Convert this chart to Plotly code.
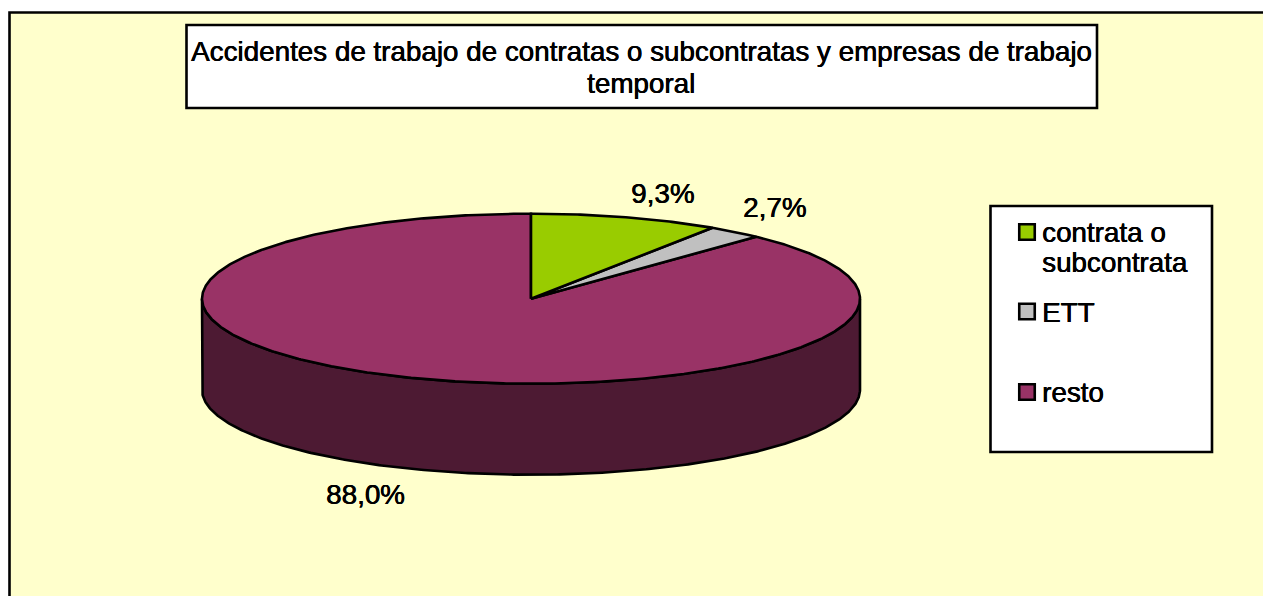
import numpy as np
import plotly.graph_objects as go

# Data
categories = ["contrata o subcontrata", "ETT", "resto"]
legend_lines = [["contrata o", "subcontrata"], ["ETT"], ["resto"]]
values = [9.3, 2.7, 88.0]
value_labels = ["9,3%", "2,7%", "88,0%"]
title_lines = ["Accidentes de trabajo de contratas o subcontratas y empresas de trabajo", "temporal"]

# Style
colors = ["#99CC00", "#C0C0C0", "#993366"]
wall_color = "#4D1A33"
bg = "#FFFFCC"
FONT = "Liberation Sans, Arial, sans-serif"
SIZE = 27.8
HEAVY = "0.5px 0 0 black, 0 0.3px 0 black"

# Pie projection, in the pixel units of the hidden axes
W, H = 1263, 596
cx, cy, rx, ry, depth = 531, 298.7, 329, 85, 91
EDGE = 2.6


def rim(a0, a1, drop=0.0, step=0.5):
    n = max(2, int(abs(a1 - a0) / step) + 1)
    t = np.radians(np.linspace(a0, a1, n))
    return cx + rx * np.sin(t), cy - ry * np.cos(t) + drop


def label(x, y, text, anchor="center"):
    return dict(x=x, y=y, text=text, showarrow=False, xanchor=anchor, yanchor="middle",
                font=dict(family=FONT, size=SIZE, color="black", shadow=HEAVY))


fig = go.Figure()

# Side wall of the disc: front half of the rim
x_top, y_top = rim(90, 270)
x_bot, y_bot = rim(270, 90, drop=depth)
fig.add_trace(go.Scatter(
    x=np.r_[x_top, x_bot, x_top[0]], y=np.r_[y_top, y_bot, y_top[0]],
    mode="lines", fill="toself", fillcolor=wall_color,
    line=dict(color="black", width=EDGE), hoverinfo="skip", showlegend=False))

# Top face: one sector per value (largest first so the small ones sit on top)
total = sum(values)
start = 0.0
sectors = []
for name, val, col in zip(categories, values, colors):
    end = start + 360.0 * val / total
    sectors.append((name, col, start, end))
    start = end
for name, col, a0, a1 in reversed(sectors):
    xs, ys = rim(a0, a1)
    fig.add_trace(go.Scatter(
        x=np.r_[cx, xs, cx], y=np.r_[cy, ys, cy],
        mode="lines", fill="toself", fillcolor=col, name=name,
        line=dict(color="black", width=EDGE), showlegend=False))

# Legend swatches
swatch_x = 1027
swatch_ys = [232, 311.5, 392]
fig.add_trace(go.Scatter(
    x=[swatch_x] * 3, y=swatch_ys, mode="markers",
    marker=dict(symbol="square", size=15.5, color=colors,
                line=dict(color="black", width=2.6)),
    hoverinfo="skip", showlegend=False))

shapes = [
    dict(type="rect", x0=9.5, y0=12.5, x1=W + 20, y1=H + 20,
         fillcolor=bg, line=dict(color="black", width=2.6), layer="below"),
    dict(type="rect", x0=186.5, y0=25, x1=1097, y1=108,
         fillcolor="white", line=dict(color="black", width=2.6), layer="below"),
    dict(type="rect", x0=990.5, y0=206, x1=1212, y1=452,
         fillcolor="white", line=dict(color="black", width=2.6), layer="below"),
]

annotations = [label(641, y, t) for t, y in zip(title_lines, [51.5, 83.5])]
annotations += [label(x, y, t) for t, x, y in zip(value_labels, [662, 774, 365], [193.5, 207.5, 494.5])]
text_x = 1039.5
for lines, ys in zip(legend_lines, [[232.5, 262.5], [312], [392.5]]):
    annotations += [label(text_x, y, t, "left") for t, y in zip(lines, ys)]

fig.update_layout(
    width=W, height=H, margin=dict(l=0, r=0, t=0, b=0),
    paper_bgcolor="white", plot_bgcolor="white", showlegend=False,
    xaxis=dict(range=[0, W], visible=False, fixedrange=True),
    yaxis=dict(range=[H, 0], visible=False, fixedrange=True),
    shapes=shapes, annotations=annotations,
    font=dict(family=FONT, color="black"),
)
fig.write_html("out.html", config={"displayModeBar": False},
               post_script="document.body.style.margin='0';document.body.style.overflow='hidden';")
